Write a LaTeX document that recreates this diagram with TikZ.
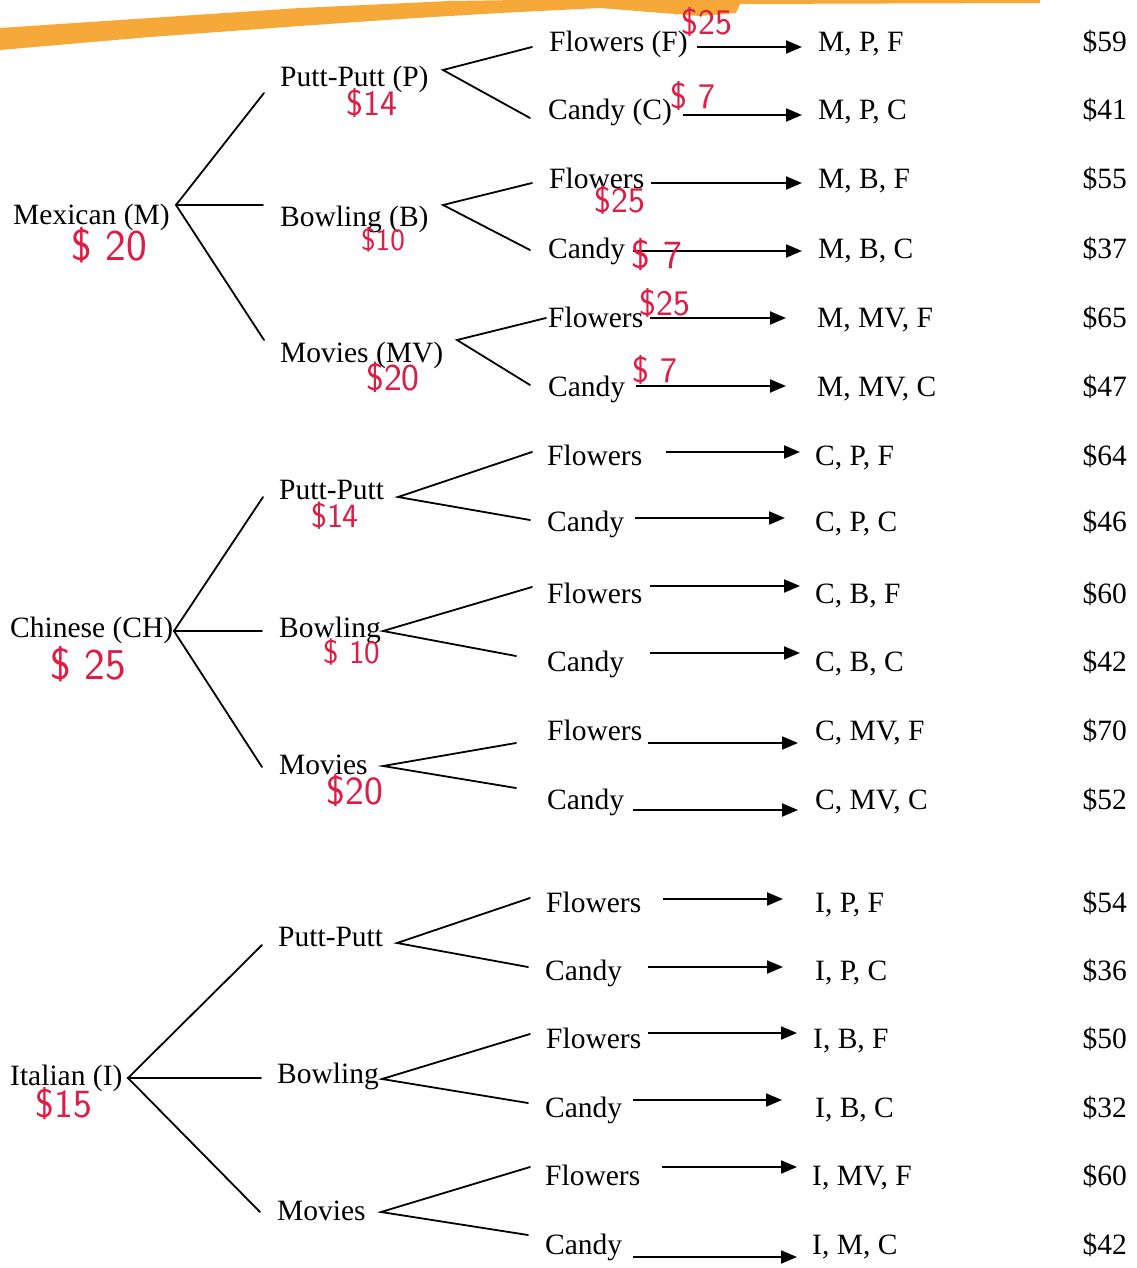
\documentclass[tikz,border=0pt]{standalone}
\usepackage{fontspec}
\setmainfont{Liberation Serif}
\usetikzlibrary{calc,arrows.meta}
\definecolor{hand}{RGB}{222,28,68}
\definecolor{marker}{RGB}{246,168,56}
\begin{document}
\begin{tikzpicture}[x=1pt,y=-1pt,
  lbl/.style={anchor=base west,inner sep=0pt,font=\fontsize{29.5}{34}\selectfont},
  price/.style={anchor=base east,inner sep=0pt,font=\fontsize{29.5}{34}\selectfont},
  hnote/.style={text=hand,inner sep=0pt,font=\sffamily\fontsize{#1}{#1}\selectfont},
  branch/.style={line width=1.8pt,line cap=round,line join=miter},
  arr/.style={line width=2pt,-{Triangle[length=16pt,width=13pt]}}]
\useasboundingbox (0,0) rectangle (1136,1268);
\fill[white] (0,0) rectangle (1136,1268);

% orange marker stroke
\fill[marker] (0,28) -- (150,18) -- (300,8) -- (450,1) -- (520,0) -- (1040,0)
  -- (1040,3) -- (740,4) -- (736,13) -- (700,16) -- (662,13) -- (600,8)
  -- (500,13) -- (400,19) -- (300,26) -- (150,37) -- (0,50) -- cycle;

% level 1
\node[lbl] (mex) at (13,224) {Mexican (M)};
\node[lbl] (chi) at (10,637) {Chinese (CH)};
\node[lbl] (ita) at (10,1085) {Italian (I)};
% level 2
\node[lbl] (mP) at (280,87) {Putt-Putt (P)};
\node[lbl] (mB) at (280,226) {Bowling (B)};
\node[lbl] (mV) at (280,362) {Movies (MV)};
\node[lbl] (cP) at (279,499) {Putt-Putt};
\node[lbl] (cB) at (279,637) {Bowling};
\node[lbl] (cV) at (279,774) {Movies};
\node[lbl] (iP) at (278,946) {Putt-Putt};
\node[lbl] (iB) at (277,1083) {Bowling};
\node[lbl] (iV) at (277,1220) {Movies};

% branch coordinates
\coordinate (mA) at (176,205);
\coordinate (mA1) at (264,93);  \coordinate (mA2) at (263,205); \coordinate (mA3) at (264,340);
\coordinate (cA) at (174,631);
\coordinate (cA1) at (263,497); \coordinate (cA2) at (262,631); \coordinate (cA3) at (262,767);
\coordinate (iA) at (128,1078);
\coordinate (iA1) at (262,945); \coordinate (iA2) at (261,1078); \coordinate (iA3) at (260,1212);

\coordinate (mPa) at (443,70);   \coordinate (mPu) at (532,47);   \coordinate (mPd) at (530,118);
\coordinate (mBa) at (443,205);  \coordinate (mBu) at (532,183);  \coordinate (mBd) at (530,250);
\coordinate (mVa) at (457,340);  \coordinate (mVu) at (546,318);  \coordinate (mVd) at (530,385);
\coordinate (cPa) at (398,497);  \coordinate (cPu) at (532,452);  \coordinate (cPd) at (530,520);
\coordinate (cBa) at (383,631);  \coordinate (cBu) at (532,587);  \coordinate (cBd) at (516,656);
\coordinate (cVa) at (383,766);  \coordinate (cVu) at (516,743);  \coordinate (cVd) at (516,788);
\coordinate (iPa) at (397,943);  \coordinate (iPu) at (530,898);  \coordinate (iPd) at (528,967);
\coordinate (iBa) at (382,1079); \coordinate (iBu) at (530,1034); \coordinate (iBd) at (528,1103);
\coordinate (iVa) at (381,1212); \coordinate (iVu) at (530,1167); \coordinate (iVd) at (528,1235);

\foreach \g in {m,c,i}{
  \draw[branch] (\g A1) -- (\g A) -- (\g A3);
  \draw[branch] (\g A) -- (\g A2);
  \foreach \h in {P,B,V}{
    \draw[branch] (\g\h u) -- (\g\h a) -- (\g\h d);
  }
}

% level 3, outcomes, prices, arrows
\foreach \i/\lx/\by/\lt/\ox/\ot/\pr/\sx/\tx/\ay in {
  1/549/52/{Flowers (F)}/818/{M, P, F}/59/697/802/47,
  2/548/120/{Candy (C)}/818/{M, P, C}/41/683/802/115,
  3/549/189/{Flowers}/818/{M, B, F}/55/651/802/183,
  4/548/258/{Candy}/818/{M, B, C}/37/633/802/251,
  5/548/327/{Flowers}/817/{M, MV, F}/65/650/786/318,
  6/548/396/{Candy}/817/{M, MV, C}/47/636/786/386,
  7/547/465/{Flowers}/815/{C, P, F}/64/666/800/452,
  8/547/531/{Candy}/815/{C, P, C}/46/635/785/518,
  9/547/603/{Flowers}/815/{C, B, F}/60/650/800/586,
  10/547/671/{Candy}/815/{C, B, C}/42/650/800/653,
  11/547/740/{Flowers}/815/{C, MV, F}/70/648/798/743,
  12/547/809/{Candy}/815/{C, MV, C}/52/633/798/810,
  13/546/912/{Flowers}/815/{I, P, F}/54/663/783/899,
  14/545/980/{Candy}/815/{I, P, C}/36/648/783/967,
  15/546/1048/{Flowers}/813/{I, B, F}/50/648/797/1033,
  16/545/1117/{Candy}/815/{I, B, C}/32/633/782/1100,
  17/545/1185/{Flowers}/812/{I, MV, F}/60/662/797/1167,
  18/545/1254/{Candy}/812/{I, M, C}/42/633/797/1257}{
  \node[lbl] (L\i) at (\lx,\by) {\lt};
  \node[lbl] (O\i) at (\ox,\by) {\ot};
  \node[price] (P\i) at (1127,\by) {\$\pr};
  \draw[arr] ($(L\i.base west)+(\sx-\lx,\ay-\by)$) -- ($(O\i.base west)+(\tx-\ox,\ay-\by)$);
}

% handwritten red notes
\node[hnote=44] (n1) at (109,245) {\$ 20};
\node[hnote=36] (n2) at (372,103) {\$14};
\node[hnote=31] (n3) at (383,240) {\$10};
\node[hnote=38] (n4) at (393,377) {\$20};
\node[hnote=36] (n5) at (707,22) {\$25};
\node[hnote=36] (n6) at (693,96) {\$ 7};
\node[hnote=36] (n7) at (620,200) {\$25};
\node[hnote=40] (n8) at (657,255) {\$ 7};
\node[hnote=36] (n9) at (665,303) {\$25};
\node[hnote=36] (n10) at (655,370) {\$ 7};
\node[hnote=44] (n11) at (88,664) {\$ 25};
\node[hnote=34] (n12) at (335,516) {\$14};
\node[hnote=33] (n13) at (352,652) {\$ 10};
\node[hnote=40] (n14) at (355,791) {\$20};
\node[hnote=40] (n15) at (64,1104) {\$15};
\end{tikzpicture}
\end{document}
